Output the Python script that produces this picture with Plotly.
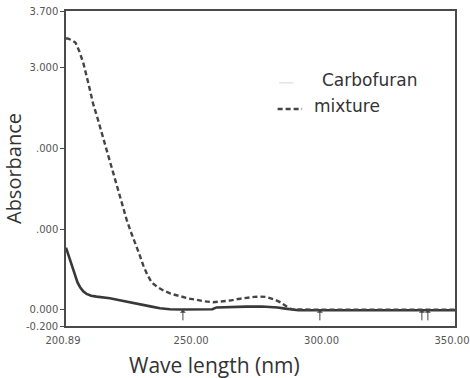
import plotly.graph_objects as go

# ---- data ----
mix_x = [200.89, 201.5, 203.0, 204.5, 206.0, 207.5, 209.5, 211.3, 213.0, 214.6, 216.0,
         217.7, 219.3, 220.9, 222.5, 224.1, 225.7, 227.3, 229.0, 230.5, 232.0, 233.7,
         236.0, 238.2, 241.0, 244.6, 248.0, 250.9, 254.0, 257.3, 260.5, 263.7, 267.0,
         270.1, 273.0, 275.2, 277.5, 279.1, 281.0, 282.9, 284.2, 285.4, 286.7, 288.0,
         290.0, 295.0, 300.0, 310.0, 320.0, 330.0, 340.0, 350.0]
mix_y = [3.36, 3.36, 3.34, 3.31, 3.20, 3.06, 2.80, 2.55, 2.37, 2.19, 2.01,
         1.82, 1.63, 1.45, 1.28, 1.12, 0.97, 0.84, 0.69, 0.55, 0.44, 0.34,
         0.28, 0.24, 0.20, 0.17, 0.14, 0.125, 0.105, 0.094, 0.10, 0.115, 0.135,
         0.15, 0.16, 0.164, 0.16, 0.144, 0.125, 0.095, 0.065, 0.035, 0.015, 0.005,
         0.003, 0.003, 0.003, 0.003, 0.003, 0.003, 0.003, 0.003]

carb_x = [200.89, 201.2, 202.4, 203.3, 204.3, 205.3, 206.3, 207.5, 208.8, 210.5, 212.6,
          215.0, 217.7, 221.0, 224.1, 227.3, 230.5, 233.7, 236.9, 238.8, 240.7, 245.0,
          250.0, 257.0, 258.6, 263.7, 270.0, 276.0, 279.0, 282.0, 285.0, 288.0, 290.0,
          300.0, 320.0, 340.0, 350.0]
carb_y = [0.77, 0.74, 0.63, 0.52, 0.42, 0.34, 0.28, 0.23, 0.197, 0.175, 0.164,
          0.155, 0.144, 0.122, 0.10, 0.08, 0.06, 0.04, 0.02, 0.013, 0.008, 0.005,
          0.005, 0.008, 0.03, 0.037, 0.04, 0.042, 0.04, 0.03, 0.015, 0.0, -0.005,
          -0.005, -0.005, -0.005, -0.005]

peak_marks_x = [245.7, 298.2, 337.3, 339.6]

y_tickvals = [-0.2, 0.0, 1.0, 2.0, 3.0, 3.7]
y_ticktext = ["-0.200", "0.000", ".000", ".000", "3.000", "3.700"]
x_tickvals = [200.89, 250.0, 300.0, 350.0]
x_ticktext = ["200.89", "250.00", "300.00", "350.00"]

series_names = ["Carbofuran", "mixture"]

# ---- figure ----
fig = go.Figure()
fig.add_trace(go.Scatter(x=carb_x, y=carb_y, mode="lines", name=series_names[0],
                         line=dict(color="#383838", width=2.6), showlegend=False))
fig.add_trace(go.Scatter(x=mix_x, y=mix_y, mode="lines", name=series_names[1],
                         line=dict(color="#444444", width=2.4, dash="5px,3px"),
                         showlegend=False))

tick_font = dict(family="DejaVu Sans", size=10, color="#555555")

fig.update_layout(
    width=470, height=378,
    margin=dict(l=66, r=15, t=11, b=52, autoexpand=False),
    paper_bgcolor="white", plot_bgcolor="white",
    xaxis=dict(range=[200.89, 350.0], tickvals=x_tickvals, ticktext=x_ticktext,
               showgrid=False, zeroline=False, showline=True, linecolor="#4a4a4a",
               linewidth=1.5, mirror=True, ticks="", tickfont=tick_font,
               ticklabeloverflow="allow", ticklabelshift=-3, ticklabelstandoff=4),
    yaxis=dict(range=[-0.2, 3.7], tickvals=y_tickvals, ticktext=y_ticktext,
               showgrid=False, zeroline=False, showline=True, linecolor="#4a4a4a",
               linewidth=1.5, mirror=True, ticks="outside", ticklen=4, tickwidth=1,
               tickcolor="#4a4a4a", tickfont=tick_font, ticklabeloverflow="allow",
               title=dict(text="Absorbance", standoff=17,
                          font=dict(family="Open Sans", size=20, color="#333333"))),
)

# x-axis title, placed left of centre as in the reference
fig.add_annotation(x=0.383, y=-0.072, xref="paper", yref="paper", text="Wave length (nm)",
                   showarrow=False, xanchor="center", yanchor="top",
                   font=dict(family="Open Sans", size=21, color="#333333"))

# peak marker arrows below the curves
for px in peak_marks_x:
    fig.add_annotation(x=px, y=0.0, xref="x", yref="y", text="", showarrow=True,
                       ax=0, ay=12, arrowhead=1, arrowsize=1, arrowwidth=1,
                       arrowcolor="#444444")

# legend drawn as text + sample lines
legend_font = dict(family="DejaVu Sans", size=17, color="#333333")
fig.add_annotation(x=0.653, y=0.781, xref="paper", yref="paper", text=series_names[0],
                   showarrow=False, xanchor="left", yanchor="middle", font=legend_font)
fig.add_annotation(x=0.632, y=0.700, xref="paper", yref="paper", text=series_names[1],
                   showarrow=False, xanchor="left", yanchor="middle", font=legend_font)
fig.add_shape(type="line", xref="paper", yref="paper", x0=0.544, x1=0.607, y0=0.689, y1=0.689,
              line=dict(color="#444444", width=2.4, dash="5px,3px"))
fig.add_shape(type="line", xref="paper", yref="paper", x0=0.548, x1=0.585, y0=0.772, y1=0.772,
              line=dict(color="#e4e4e4", width=1.5))

fig.write_html("out.html")
